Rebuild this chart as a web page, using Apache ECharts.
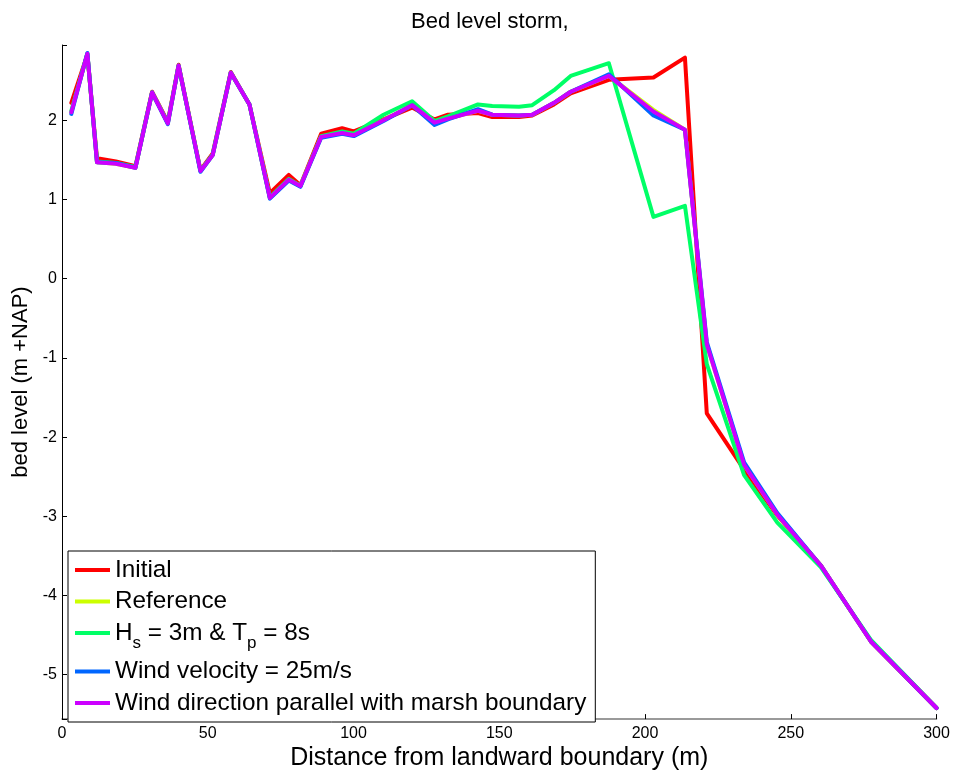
<!DOCTYPE html>
<html>
<head>
<meta charset="utf-8">
<script src="https://cdn.jsdelivr.net/npm/echarts@6/dist/echarts.min.js"></script>
<style>
  html, body { margin: 0; padding: 0; background: #fff; }
  #chart { width: 953px; height: 776px; }
</style>
</head>
<body>
<div id="chart"></div>
<script>
// Cross-shore positions (m from the landward boundary)
const distance = [3.2, 8.7, 12.0, 18.5, 25.2, 30.9, 36.3, 40.0, 47.5, 51.7, 57.9, 64.3, 71.3, 77.8, 81.8, 88.9, 96.1, 100.1,
  110.3, 120.1, 127.8, 132.4, 142.7, 147.6, 156.8, 161.3, 168.8, 174.5, 187.6, 202.9, 213.7, 221.2, 234.0, 245.4, 260.3, 277.5, 300.0];

// Bed level (m +NAP) for each run
const initial = [2.22, 2.83, 1.52, 1.48, 1.42, 2.36, 1.98, 2.70, 1.37, 1.58, 2.61, 2.20, 1.08, 1.31, 1.18, 1.83, 1.90, 1.86,
  2.01, 2.16, 2.01, 2.07, 2.09, 2.04, 2.04, 2.06, 2.20, 2.34, 2.51, 2.54, 2.79, -1.70, -2.41, -2.99, -3.62, -4.58, -5.42];
const reference = [2.10, 2.84, 1.47, 1.45, 1.40, 2.35, 1.96, 2.69, 1.36, 1.56, 2.60, 2.20, 1.02, 1.25, 1.17, 1.79, 1.84, 1.81,
  2.00, 2.19, 1.97, 2.02, 2.12, 2.07, 2.06, 2.07, 2.22, 2.36, 2.56, 2.13, 1.88, -0.83, -2.35, -2.98, -3.62, -4.58, -5.42];
const hsTp = [2.12, 2.84, 1.48, 1.46, 1.41, 2.35, 1.97, 2.69, 1.36, 1.57, 2.60, 2.20, 1.03, 1.26, 1.17, 1.80, 1.86, 1.83,
  2.07, 2.24, 1.99, 2.05, 2.20, 2.18, 2.17, 2.19, 2.38, 2.56, 2.72, 0.78, 0.92, -1.08, -2.48, -3.08, -3.64, -4.56, -5.42];
const windVelocity = [2.08, 2.85, 1.47, 1.46, 1.40, 2.35, 1.95, 2.69, 1.35, 1.56, 2.60, 2.20, 1.01, 1.24, 1.16, 1.78, 1.83, 1.80,
  1.99, 2.19, 1.94, 2.01, 2.14, 2.07, 2.06, 2.07, 2.22, 2.36, 2.58, 2.06, 1.88, -0.80, -2.32, -2.96, -3.62, -4.58, -5.42];
const windDirection = [2.10, 2.84, 1.47, 1.45, 1.40, 2.35, 1.96, 2.69, 1.36, 1.56, 2.60, 2.20, 1.02, 1.25, 1.17, 1.79, 1.84, 1.81,
  2.00, 2.19, 1.97, 2.02, 2.12, 2.07, 2.06, 2.07, 2.22, 2.36, 2.56, 2.11, 1.88, -0.83, -2.35, -2.98, -3.62, -4.58, -5.42];

const seriesNames = ['Initial', 'Reference', 'Hs', 'Wind velocity = 25m/s', 'Wind direction parallel with marsh boundary'];
const seriesColors = ['#ff0000', '#ccff00', '#00ff66', '#0066ff', '#cc00ff'];
const seriesValues = [initial, reference, hsTp, windVelocity, windDirection];

const FONT = 'Arial, "Liberation Sans", Helvetica, sans-serif';

const chart = echarts.init(document.getElementById('chart'), null, { renderer: 'canvas' });

chart.setOption({
  animation: false,
  backgroundColor: '#ffffff',
  title: {
    text: 'Bed level storm,',
    left: 411,
    top: 11,
    padding: 0,
    textStyle: { fontFamily: FONT, fontSize: 22, fontWeight: 'normal', color: '#000' }
  },
  grid: { left: 62, right: 16.5, top: 45, bottom: 51, containLabel: false },
  xAxis: {
    type: 'value',
    min: 0,
    max: 300,
    interval: 50,
    name: 'Distance from landward boundary (m)',
    nameLocation: 'middle',
    nameGap: 26,
    nameTextStyle: { fontFamily: FONT, fontSize: 25, color: '#000' },
    axisLine: { show: true, onZero: false, lineStyle: { color: '#7a7a7a', width: 1.5 } },
    axisTick: { show: true, inside: true, length: 5, lineStyle: { color: '#000' } },
    axisLabel: { fontFamily: FONT, fontSize: 16, color: '#000', margin: 6 },
    splitLine: { show: false }
  },
  yAxis: {
    type: 'value',
    min: -5.56,
    max: 2.95,
    splitNumber: 8,
    name: 'bed level (m +NAP)',
    nameLocation: 'middle',
    nameGap: 30,
    nameTextStyle: { fontFamily: FONT, fontSize: 22, color: '#000' },
    axisLine: { show: true, onZero: false, lineStyle: { color: '#000', width: 1 } },
    axisTick: { show: true, inside: true, length: 5, lineStyle: { color: '#000' } },
    axisLabel: {
      fontFamily: FONT, fontSize: 16, color: '#000', margin: 5,
      formatter: v => (Math.abs(v - Math.round(v)) < 1e-9 ? String(Math.round(v)) : '')
    },
    splitLine: { show: false }
  },
  legend: {
    orient: 'vertical',
    left: 68,
    top: 551,
    padding: [7, 9, 7, 7],
    itemGap: 7.5,
    itemWidth: 35,
    itemHeight: 4,
    icon: 'rect',
    backgroundColor: '#ffffff',
    borderColor: '#000',
    borderWidth: 1,
    borderRadius: 0,
    data: seriesNames,
    formatter: name => (name === 'Hs' ? '{n|H}{s|s}{n| = 3m & T}{s|p}{n| = 8s}' : name),
    textStyle: {
      fontFamily: FONT, fontSize: 24.3, color: '#000', lineHeight: 24,
      rich: {
        n: { fontFamily: FONT, fontSize: 24.3, lineHeight: 24, color: '#000', verticalAlign: 'top' },
        s: { fontFamily: FONT, fontSize: 17, lineHeight: 17, color: '#000', verticalAlign: 'top', padding: [14, 0, 0, 0] }
      }
    }
  },
  series: seriesNames.map((name, k) => ({
    name: name,
    type: 'line',
    showSymbol: false,
    symbol: 'none',
    color: seriesColors[k],
    lineStyle: { color: seriesColors[k], width: 4, join: 'round', cap: 'round' },
    data: distance.map((d, i) => [d, seriesValues[k][i]]),
    z: 2 + k
  }))
});
</script>
</body>
</html>
